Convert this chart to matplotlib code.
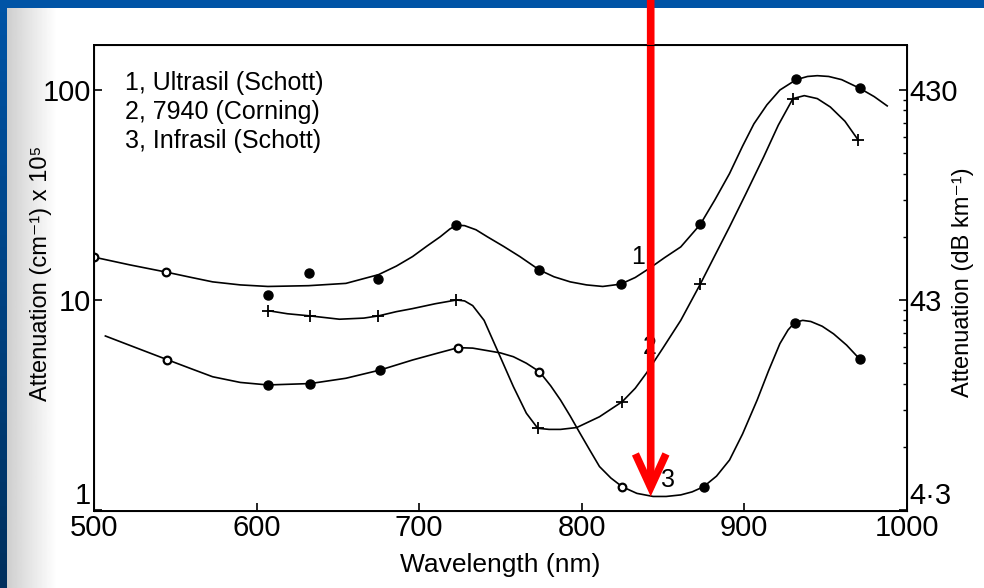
import matplotlib.pyplot as plt
import numpy as np
from matplotlib.colors import LinearSegmentedColormap
from matplotlib.ticker import NullLocator, LogLocator, NullFormatter

plt.rcParams['font.family'] = ['Liberation Sans', 'DejaVu Sans']

# measured points: wavelength (nm), attenuation (cm^-1 x 1e5)
ultrasil_wl = [500, 544, 607, 632, 675, 723, 774, 824, 873, 932, 971]
ultrasil_att = [16.0, 13.6, 10.6, 13.4, 12.6, 22.8, 13.9, 11.9, 22.9, 113, 102]
ultrasil_hollow = [1, 1, 0, 0, 0, 0, 0, 0, 0, 0, 0]

corning_wl = [607, 633, 675, 723, 773, 825, 873, 930, 970]
corning_att = [8.9, 8.4, 8.4, 10.0, 2.45, 3.28, 11.9, 91, 58]

infrasil_wl = [545, 607, 633, 676, 724, 774, 825, 875, 931, 971]
infrasil_att = [5.2, 3.94, 4.0, 4.64, 5.93, 4.56, 1.29, 1.29, 7.8, 5.24]
infrasil_hollow = [1, 0, 0, 0, 1, 1, 1, 0, 0, 0]

# the hand drawn curves
ultrasil_curve_wl = [500, 522, 544, 560, 573, 590, 607, 632, 655, 675, 686, 696, 705,
                     713, 719, 723, 728, 735, 742, 752, 762, 774, 783, 793, 803, 813,
                     824, 833, 842, 851, 861, 873, 882, 891, 899, 906, 914, 922, 932,
                     939, 945, 952, 960, 971, 980, 988]
ultrasil_curve_att = [16.0, 14.7, 13.6, 12.8, 12.2, 11.8, 11.6, 11.7, 12.0, 13.2, 14.5,
                      16.1, 18.1, 20.0, 21.8, 22.7, 22.6, 21.6, 20.0, 18.0, 16.1, 13.9,
                      12.9, 12.2, 11.8, 11.6, 11.9, 12.8, 14.2, 15.9, 17.9, 22.9, 30,
                      40, 54, 69, 85, 100, 112, 116, 117, 116, 112, 102, 93, 84]

corning_curve_wl = [607, 619, 633, 651, 666, 675, 686, 696, 710, 723, 728, 733, 740,
                    748, 758, 766, 773, 780, 787, 797, 811, 825, 833, 840, 850, 861,
                    873, 882, 891, 901, 912, 921, 930, 937, 945, 953, 962, 970]
corning_curve_att = [8.9, 8.6, 8.4, 8.1, 8.2, 8.4, 8.8, 9.1, 9.6, 10.0, 9.9, 9.4, 8.0,
                     5.8, 3.87, 2.89, 2.45, 2.42, 2.42, 2.47, 2.78, 3.28, 3.8, 4.5,
                     5.9, 8.0, 11.9, 16.3, 22.3, 32, 48, 68, 91, 94, 91, 83, 71, 58]

infrasil_curve_wl = [507, 524, 545, 560, 573, 590, 607, 633, 655, 676, 696, 712, 724,
                     733, 742, 750, 758, 766, 774, 781, 787, 793, 799, 805, 811, 818,
                     825, 834, 844, 852, 861, 868, 875, 883, 891, 899, 908, 915, 922,
                     927, 931, 936, 941, 948, 955, 963, 971]
infrasil_curve_att = [6.74, 6.0, 5.2, 4.7, 4.31, 4.05, 3.94, 4.0, 4.24, 4.64, 5.18,
                      5.6, 5.93, 5.9, 5.74, 5.6, 5.37, 5.0, 4.56, 3.9, 3.34, 2.8, 2.32,
                      1.93, 1.61, 1.42, 1.29, 1.2, 1.16, 1.16, 1.18, 1.22, 1.29, 1.45,
                      1.73, 2.3, 3.34, 4.6, 6.2, 7.2, 7.8, 8.0, 7.9, 7.5, 6.9, 6.1, 5.24]

legend_lines = ['1, Ultrasil (Schott)', '2, 7940 (Corning)', '3, Infrasil (Schott)']
curve_tags = ['1', '2', '3']
tag_wl = [835, 842, 853]
tag_att = [16.1, 6.0, 1.39]

x_ticks = [500, 600, 700, 800, 900, 1000]
y_ticks = [1, 10, 100]
y_left_labels = ['1', '10', '100']
y_right_labels = ['4·3', '43', '430']

arrow_wl = 842.5
arrow_att = 1.16

fig = plt.figure(figsize=(9.84, 5.88), dpi=100)
fig.patch.set_facecolor('white')

# slide background: blue strips and the grey stipple down the left side
band = fig.add_axes([0, 0, 7 / 984, 1])
band.imshow(np.linspace(0, 1, 50).reshape(-1, 1), aspect='auto',
            cmap=LinearSegmentedColormap.from_list('b', ['#0054a6', '#00305e']))
band.axis('off')
top = fig.add_axes([0, 1 - 8 / 588, 1, 8 / 588])
top.set_facecolor('#0054a6')
top.set_xticks([])
top.set_yticks([])
for s in top.spines.values():
    s.set_visible(False)
stip = fig.add_axes([7 / 984, 0, 50 / 984, 1 - 8 / 588])
stip.imshow(np.linspace(0.74, 1.0, 60).reshape(1, -1) ** 0.7, aspect='auto', cmap='gray',
            vmin=0, vmax=1)
stip.axis('off')

ax = fig.add_axes([94 / 984, 1 - 511 / 588, 812.7 / 984, 466 / 588])
ax.set_yscale('log')
ax.set_xlim(500, 1000)
ax.set_ylim(10 ** (-1 / 210), 10 ** (465 / 210))

lw = 1.2
ax.plot(ultrasil_curve_wl, ultrasil_curve_att, color='black', lw=lw)
ax.plot(corning_curve_wl, corning_curve_att, color='black', lw=lw)
ax.plot(infrasil_curve_wl, infrasil_curve_att, color='black', lw=lw)

for wl, att, hollow in [(ultrasil_wl, ultrasil_att, ultrasil_hollow),
                        (infrasil_wl, infrasil_att, infrasil_hollow)]:
    wl = np.array(wl)
    att = np.array(att)
    h = np.array(hollow, dtype=bool)
    ax.plot(wl[~h], att[~h], 'o', color='black', ms=6.5, zorder=3)
    ax.plot(wl[h], att[h], 'o', mfc='white', mec='black', mew=1.6, ms=5.5, zorder=3)
ax.plot(corning_wl, corning_att, '+', color='black', ms=9, mew=1.3, zorder=3)

for i, line in enumerate(legend_lines):
    ax.text(0.038, 0.919 - i * 0.062, line, transform=ax.transAxes, fontsize=18,
            ha='left', va='center')
for t, x, y in zip(curve_tags, tag_wl, tag_att):
    ax.text(x, y, t, fontsize=18, ha='center', va='center')

ax.set_xticks(x_ticks)
ax.set_xticklabels([str(v) for v in x_ticks])
ax.set_yticks(y_ticks)
ax.set_yticklabels(y_left_labels)
ax.yaxis.set_minor_locator(NullLocator())
ax.tick_params(axis='both', which='major', direction='in', length=6, width=1.2,
               labelsize=21, pad=2)
ax.tick_params(axis='y', right=False)
ax.tick_params(axis='x', top=False)
for s in ax.spines.values():
    s.set_linewidth(1.4)

ax2 = ax.twinx()
ax2.set_yscale('log')
ax2.set_ylim(ax.get_ylim())
ax2.set_yticks(y_ticks)
ax2.set_yticklabels(y_right_labels)
ax2.yaxis.set_minor_locator(LogLocator(subs=np.arange(2, 10)))
ax2.yaxis.set_minor_formatter(NullFormatter())
ax2.tick_params(axis='y', which='major', direction='in', length=6, width=1.2,
                labelsize=21, pad=2)
ax2.tick_params(axis='y', which='minor', direction='in', length=3, width=1)

# the lowest labels sit above the corner, clear of the x labels
ax.get_yticklabels()[0].set_va('bottom')
ax2.get_yticklabels()[0].set_va('bottom')

ax.set_xlabel('Wavelength (nm)', fontsize=19, labelpad=8)
ax.set_ylabel('Attenuation (cm⁻¹) x 10⁵', fontsize=17)
ax.yaxis.set_label_coords(-0.052, 0.51)
ax2.set_ylabel('Attenuation (dB km⁻¹)', fontsize=17)
ax2.yaxis.set_label_coords(1.056, 0.49)

ax.annotate('', xy=(arrow_wl, arrow_att), xytext=(arrow_wl, 1.0),
            xycoords='data', textcoords=('data', 'figure fraction'),
            annotation_clip=False,
            arrowprops=dict(arrowstyle='->,head_length=2.4,head_width=1.1',
                            color='#ff0000', lw=5.5, shrinkA=0, shrinkB=0,
                            mutation_scale=10, joinstyle='miter', capstyle='butt'),
            zorder=10)

fig.savefig('out.png', dpi=100)
